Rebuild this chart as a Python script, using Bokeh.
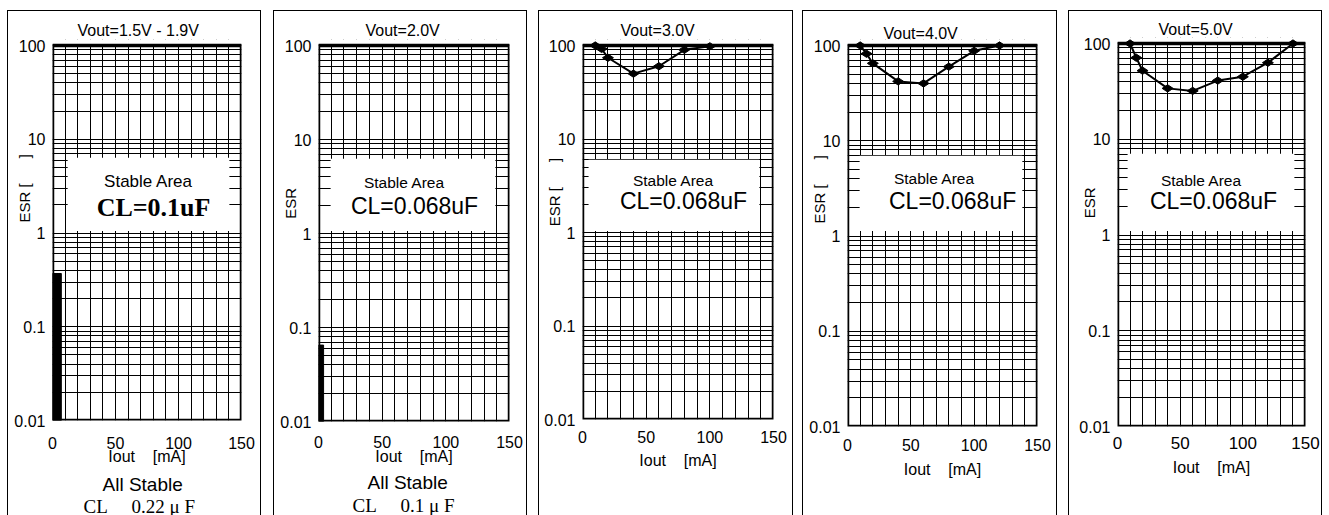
import math
from bokeh.plotting import figure
from bokeh.layouts import row
from bokeh.models import FixedTicker, CustomJSTickFormatter, Label, Range1d, BoxAnnotation, Title
from bokeh.embed import file_html
from bokeh.resources import INLINE

NBSP = "\u00a0"

# ---------------- data ----------------
panel_titles = ["Vout=1.5V - 1.9V", "Vout=2.0V", "Vout=3.0V", "Vout=4.0V", "Vout=5.0V"]
cl_labels = ["CL=0.1uF", "CL=0.068uF", "CL=0.068uF", "CL=0.068uF", "CL=0.068uF"]
esr_axis_labels = ["ESR [" + NBSP * 6 + "]", "ESR", "ESR [" + NBSP * 6 + "]",
                   "ESR [" + NBSP * 6 + "]", "ESR"]
stable_text = "Stable Area"
iout_text = "Iout" + NBSP * 4 + "[mA]"

# Stability boundary curves (Iout mA, ESR ohm)
iout_v30 = [10, 15, 20, 40, 60, 80, 100]
esr_v30 = [100, 92, 74, 50, 60, 90, 98]
iout_v40 = [10, 15, 20, 40, 60, 80, 100, 120]
esr_v40 = [100, 82, 65, 42, 40, 60, 88, 100]
iout_v50 = [10, 15, 20, 40, 60, 80, 100, 120, 140]
esr_v50 = [100, 71, 52, 34, 32, 41, 45, 63, 100]
curves = [None, None, (iout_v30, esr_v30), (iout_v40, esr_v40), (iout_v50, esr_v50)]

# low-current bars (panels 1 and 2)
bar_iout_max = [7, 4]
bar_esr_max = [0.37, 0.065]
all_stable_text = "All Stable"
all_stable_cl = ["CL" + NBSP * 5 + "0.22 μ F", "CL" + NBSP * 5 + "0.1 μ F"]

x_major = [0, 50, 100, 150]
x_minor = [10, 20, 30, 40, 60, 70, 80, 90, 110, 120, 130, 140]
y_major = [0.01, 0.1, 1, 10, 100]
y_minor = [m * 10.0 ** e for e in range(-2, 2) for m in range(2, 10)]
X_MIN, X_MAX = 0, 150
Y_MIN, Y_MAX = 0.01, 100

# ---------------- layout geometry (page px) ----------------
FIG_TOP = 10
FIG_BOTTOM = 515
PAD = 6  # room above the grid so that top markers are not cut
geo = [
    dict(fl=7,    fw=254, L=52,   R=239,  T=45, B=419, gap=12),
    dict(fl=273,  fw=254, L=318,  R=507,  T=45, B=420, gap=11),
    dict(fl=538,  fw=255, L=582,  R=771,  T=45, B=418, gap=9),
    dict(fl=802,  fw=255, L=847,  R=1035, T=45, B=425, gap=11),
    dict(fl=1068, fw=254, L=1117, R=1303, T=43, B=425, gap=0),
]

title_left = [77, 365, 620, 883, 1158]
title_standoff = [2, 2, 2, -4, 0]
esr_center_y = [188, 203, 191, 189, 202]
stable_pos = [(147, 181), (403, 182), (672, 180), (933, 178), (1200, 180)]
cl_pos = [(152, 207), (413, 205), (682, 200), (951, 200), (1212, 200)]
wbox = [(67, 227, 157, 230), (330, 493, 158, 230), (588, 757, 159, 230),
        (859, 1020, 155, 230), (1127, 1292, 153, 230)]
allstable_left = [102, 367]
cl_left = [83, 352]
xtick_standoff = [16, 14, 11, 12, 10]
xlabel_standoff = [-4, -3, 6, 7, 7]
below_standoffs = [(12, -14), (8, -8)]

SANS = "Liberation Sans"
SERIF = "Liberation Serif"


def dx(g, px):
    return 150.0 * (px - g["L"]) / (g["R"] - g["L"])


def dy(g, py):
    return 10 ** (2 - 4.0 * (py - g["T"]) / (g["B"] - g["T"]))


figs = []
for i, g in enumerate(geo):
    y_top = dy(g, g["T"] - PAD)
    p = figure(
        width=g["fw"], height=FIG_BOTTOM - FIG_TOP,
        x_range=Range1d(X_MIN, X_MAX), y_range=Range1d(Y_MIN, y_top),
        y_axis_type="log", output_backend="svg", toolbar_location=None,
        min_border_left=g["L"] - g["fl"] - 1, min_border_right=g["fl"] + g["fw"] - g["R"] - 1,
        min_border_top=g["T"] - PAD - FIG_TOP - 1, min_border_bottom=FIG_BOTTOM - g["B"],
        margin=(FIG_TOP, g["gap"], 0, g["fl"] if i == 0 else 0),
    )
    p.frame_align = False
    p.styles = {"border": "1px solid black", "border-bottom": "none", "box-sizing": "border-box"}
    p.background_fill_color = "white"
    p.border_fill_color = "white"
    p.outline_line_color = None

    # title above the grid
    p.title = Title(text=panel_titles[i], align="left", offset=title_left[i] - g["L"],
                    text_font=SANS, text_font_size="16px", text_font_style="normal",
                    text_color="black", standoff=title_standoff[i])

    xt = FixedTicker(ticks=x_major, minor_ticks=x_minor)
    yt = FixedTicker(ticks=y_major, minor_ticks=y_minor)
    p.xaxis.ticker = xt
    p.yaxis.ticker = yt
    p.xgrid.ticker = xt
    p.ygrid.ticker = yt
    p.yaxis.formatter = CustomJSTickFormatter(code="return String(Number(tick.toPrecision(6)))")
    for ax in (p.xaxis[0], p.yaxis[0]):
        ax.axis_line_color = None
        ax.major_tick_line_color = None
        ax.minor_tick_line_color = None
        ax.major_tick_out = 0
        ax.major_tick_in = 0
        ax.minor_tick_out = 0
        ax.minor_tick_in = 0
        ax.major_label_text_font = SANS
        ax.major_label_text_color = "black"
        ax.axis_label_text_font = SANS
        ax.axis_label_text_font_style = "normal"
        ax.axis_label_text_color = "black"
    p.xaxis.major_label_text_font_size = "17px" if i == 4 else "16px"
    p.yaxis.major_label_text_font_size = "16px"
    p.xaxis.major_label_standoff = xtick_standoff[i]
    p.yaxis.major_label_standoff = 7

    # x axis label
    p.xaxis.axis_label = iout_text
    p.xaxis.axis_label_text_font_size = "16px"
    p.xaxis.axis_label_standoff = xlabel_standoff[i]

    # y axis label, shifted upward with leading no-break spaces
    frame_mid = 0.5 * (g["T"] - PAD + g["B"])
    shift_px = 2 * (frame_mid - esr_center_y[i])
    n_pad = max(0, int(round(shift_px / (0.278 * 15))))
    p.yaxis.axis_label = NBSP * n_pad + esr_axis_labels[i]
    p.yaxis.axis_label_text_font_size = "15px"
    p.yaxis.axis_label_standoff = -22

    for grid in (p.xgrid[0], p.ygrid[0]):
        grid.grid_line_color = "black"
        grid.grid_line_width = 1
        grid.minor_grid_line_color = "black"
        grid.minor_grid_line_width = 1

    # blank band above the 100 line (keeps top markers whole)
    p.add_layout(BoxAnnotation(left=X_MIN, right=X_MAX, bottom=Y_MAX, top=y_top,
                               fill_color="white", fill_alpha=1.0, line_color=None, level="underlay"))
    # white "stable area" box
    l, r, t, b = wbox[i]
    p.add_layout(BoxAnnotation(left=dx(g, l), right=dx(g, r), top=dy(g, t), bottom=dy(g, b),
                               fill_color="white", fill_alpha=1.0, line_color=None, level="underlay"))
    # heavy border of the grid
    p.add_layout(BoxAnnotation(left=X_MIN, right=X_MAX, bottom=Y_MIN, top=Y_MAX,
                               fill_alpha=0.0, line_color="black", line_alpha=1.0,
                               line_width=3.5, level="underlay"))

    if i < 2:
        p.quad(left=0, right=bar_iout_max[i], bottom=Y_MIN, top=bar_esr_max[i],
               fill_color="black", line_color="black")

    if curves[i] is not None:
        xs, ys = curves[i]
        p.line(xs, ys, line_color="black", line_width=2)
        p.scatter(xs, ys, marker="diamond", size=11, angle=math.pi / 2,
                  fill_color="black", line_color="black")

    def lab(text, pos, size, font=SANS, style="normal"):
        p.add_layout(Label(x=dx(g, pos[0]), y=dy(g, pos[1]), text=text,
                           text_font=font, text_font_size=size, text_font_style=style,
                           text_align="center", text_baseline="middle", text_color="black"))

    lab(stable_text, stable_pos[i], "17px" if i == 0 else "15.5px")
    if i == 0:
        lab(cl_labels[i], cl_pos[i], "26px", font=SERIF, style="bold")
    else:
        lab(cl_labels[i], cl_pos[i], "23px")

    if i < 2:
        s1, s2 = below_standoffs[i]
        p.add_layout(Title(text=all_stable_text, align="left", offset=allstable_left[i] - g["L"],
                           text_font=SANS, text_font_size="19px", text_font_style="normal",
                           text_color="black", standoff=s1, vertical_align="top"), "below")
        p.add_layout(Title(text=all_stable_cl[i], align="left", offset=cl_left[i] - g["L"],
                           text_font=SERIF, text_font_size="19px", text_font_style="normal",
                           text_color="black", standoff=s2, vertical_align="top"), "below")
    figs.append(p)

layout = row(*figs)
open("out.html", "w").write(file_html(layout, INLINE))
